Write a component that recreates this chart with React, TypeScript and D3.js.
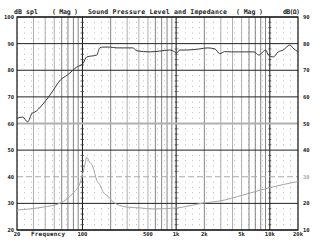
import React from "react";
import * as d3 from "d3";

const splFreq = [20, 21, 23, 26, 29, 31, 37, 45, 49, 58, 69, 87, 101, 111, 142, 153, 165, 196, 233, 298, 345, 381, 525, 668, 856, 967, 1015, 1090, 1300, 1770, 2150, 2600, 2920, 3290, 3890, 5320, 6780, 7640, 8210, 9040, 9650, 10900, 12300, 13900, 16400, 17600, 20000];
const splDb = [61.7, 62.2, 62.4, 60.6, 63.9, 64.3, 66.9, 70.7, 72.6, 76.3, 78.2, 81.2, 82.5, 85.0, 85.7, 88.4, 88.7, 88.7, 88.4, 88.4, 88.4, 87.3, 86.9, 87.2, 87.6, 86.9, 86.5, 87.6, 87.6, 88.0, 88.4, 88.0, 86.2, 87.0, 86.9, 86.9, 86.9, 85.7, 86.5, 87.6, 85.7, 85.0, 86.9, 87.6, 89.5, 88.4, 86.9];

const impFreq = [20, 38, 58, 79, 94, 101, 106, 111, 118, 129, 142, 153, 165, 196, 211, 298, 410, 565, 1015, 1940, 2920, 5160, 9650, 20000];
const impVal = [17.5, 18.6, 20.1, 23.8, 27.6, 31.5, 34.5, 37.3, 35.8, 33.8, 28.7, 27.0, 24.5, 22.0, 20.6, 18.6, 18.3, 17.9, 18.3, 20.1, 20.9, 23.1, 25.8, 28.2];

const leftTicks = [100, 90, 80, 70, 60, 50, 40, 30, 20];
const rightTicks = [90, 80, 70, 60, 50, 40, 30, 20, 10];
const freqTicks = [100, 500, 1000, 2000, 5000, 10000, 20000];
const freqLabels = ["100", "500", "1k", "2k", "5k", "10k", "20k"];

const W = 320, H = 249;
const L = 17, R = 298, T = 17, B = 230;

export default function App() {
  const x = d3.scaleLog().domain([20, 20000]).range([L, R]);
  const y = d3.scaleLinear().domain([20, 100]).range([B, T]);
  const yR = d3.scaleLinear().domain([10, 90]).range([B, T]);

  const gridF: number[] = [];
  [10, 100, 1000, 10000].forEach((d) => {
    for (let k = 1; k <= 9; k++) {
      const f = k * d;
      if (f > 20 && f < 20000) gridF.push(f);
    }
  });
  const minorDb: number[] = [];
  for (let v = 22; v < 100; v += 2) if (v % 10 !== 0) minorDb.push(v);

  const splLine = d3.line<number>().x((_, i) => x(splFreq[i])).y((d) => y(d)).curve(d3.curveMonotoneX);
  const impLine = d3.line<number>().x((_, i) => x(impFreq[i])).y((d) => yR(d)).curve(d3.curveMonotoneX);

  const mono = "'DejaVu Sans Mono', monospace";

  return (
    <svg width={W} height={H} style={{ position: "absolute", left: 0, top: 0, background: "#fff" }}>
      <rect x={0} y={0} width={W} height={H} fill="#fff" />
      {minorDb.map((v) => (
        <line key={"m" + v} x1={L} x2={R} y1={y(v)} y2={y(v)} stroke="#aaa" strokeWidth={0.8} strokeDasharray="1,6" />
      ))}
      {gridF.map((f) => {
        const isDec = Math.abs(Math.log10(f) - Math.round(Math.log10(f))) < 1e-9;
        const k = f / Math.pow(10, Math.floor(Math.log10(f) + 1e-9));
        const dark = k >= 6 || k === 2;
        return (
          <line key={"v" + f} x1={x(f)} x2={x(f)} y1={T} y2={B}
            stroke={isDec ? "#222" : dark ? "#666" : "#9a9a9a"} strokeWidth={isDec ? 1.1 : 0.8} />
        );
      })}
      {[100, 1000, 10000].map((f) =>
        minorDb.map((v) => (
          <line key={"t" + f + v} x1={x(f) - 1.5} x2={x(f) + 1.5} y1={y(v)} y2={y(v)} stroke="#444" strokeWidth={0.8} />
        ))
      )}
      {leftTicks.map((v) => {
        if (v === 60) return <line key={"h" + v} x1={L} x2={R} y1={y(v)} y2={y(v)} stroke="#b0b0b0" strokeWidth={2.2} />;
        if (v === 40) return <line key={"h" + v} x1={L} x2={R} y1={y(v)} y2={y(v)} stroke="#aaa" strokeWidth={1} strokeDasharray="6,3" />;
        return <line key={"h" + v} x1={L} x2={R} y1={y(v)} y2={y(v)} stroke="#222" strokeWidth={1} />;
      })}
      <rect x={L} y={T} width={R - L} height={B - T} fill="none" stroke="#111" strokeWidth={1.2} />
      <path d={impLine(impVal) || ""} fill="none" stroke="#a5a5a5" strokeWidth={1} />
      <path d={splLine(splDb) || ""} fill="none" stroke="#3a3a3a" strokeWidth={1} />
      {leftTicks.map((v) => (
        <text key={"l" + v} x={14} y={y(v) + 2} textAnchor="end" fontFamily={mono} fontWeight="bold" fontSize={5.5} fill="#222">{v}</text>
      ))}
      {rightTicks.map((v) => (
        <text key={"r" + v} x={303} y={yR(v) + 2} textAnchor="start" fontFamily={mono} fontWeight="bold" fontSize={5.5} fill={v === 30 ? "#aaa" : "#222"}>{v}</text>
      ))}
      <text x={x(20)} y={236} textAnchor="middle" fontFamily={mono} fontWeight="bold" fontSize={5.5} fill="#222">20</text>
      <text x={31} y={236} textLength={34} fontFamily={mono} fontWeight="bold" fontSize={6} fill="#222">Frequency</text>
      {freqTicks.map((f, i) => (
        <text key={"f" + f} x={x(f)} y={236} textAnchor="middle" fontFamily={mono} fontWeight="bold" fontSize={5.5} fill="#222">{freqLabels[i]}</text>
      ))}
      <g fontFamily={mono} fontWeight="bold" fontSize={6.5} fill="#222">
        <text x={14} y={14} textLength={24}>dB spl</text>
        <text x={52} y={14} textLength={26}>( Mag )</text>
        <text x={88} y={14} textLength={139}>Sound Pressure Level and Impedance</text>
        <text x={236} y={14} textLength={27}>( Mag )</text>
        <text x={283} y={14} textLength={17}>dB(Ω)</text>
      </g>
    </svg>
  );
}
